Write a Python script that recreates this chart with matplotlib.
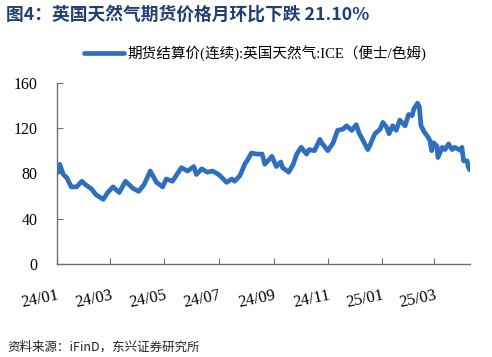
import pandas as pd
import matplotlib.pyplot as plt
import matplotlib.dates as mdates

# ICE UK natural gas settlement price (pence/therm)
dates = [
    '2024-01-02', '2024-01-04', '2024-01-08', '2024-01-12', '2024-01-17', '2024-01-23',
    '2024-01-29', '2024-02-02', '2024-02-09', '2024-02-14', '2024-02-22', '2024-02-27',
    '2024-03-04', '2024-03-11', '2024-03-18', '2024-03-22', '2024-03-26', '2024-04-02',
    '2024-04-08', '2024-04-15', '2024-04-22', '2024-04-29', '2024-05-03', '2024-05-10',
    '2024-05-20', '2024-05-27', '2024-06-03', '2024-06-06', '2024-06-12', '2024-06-18',
    '2024-06-24', '2024-07-01', '2024-07-05', '2024-07-10', '2024-07-16', '2024-07-19',
    '2024-07-25', '2024-07-31', '2024-08-02', '2024-08-07', '2024-08-13', '2024-08-19',
    '2024-08-22', '2024-08-30', '2024-09-04', '2024-09-09', '2024-09-11', '2024-09-18',
    '2024-09-23', '2024-09-27', '2024-10-02', '2024-10-08', '2024-10-11', '2024-10-17',
    '2024-10-23', '2024-10-25', '2024-11-01', '2024-11-07', '2024-11-12', '2024-11-18',
    '2024-11-22', '2024-11-28', '2024-12-03', '2024-12-06', '2024-12-10', '2024-12-16',
    '2024-12-18', '2024-12-24', '2024-12-30', '2025-01-02', '2025-01-06', '2025-01-09',
    '2025-01-13', '2025-01-17', '2025-01-21', '2025-01-27', '2025-01-31', '2025-02-04',
    '2025-02-06', '2025-02-10', '2025-02-12', '2025-02-14', '2025-02-18', '2025-02-21',
    '2025-02-24', '2025-02-26', '2025-02-28', '2025-03-04', '2025-03-05', '2025-03-10',
    '2025-03-13', '2025-03-17', '2025-03-21', '2025-03-24', '2025-03-31', '2025-04-01',
    '2025-04-03', '2025-04-07', '2025-04-08', '2025-04-10',
]
prices = [
    81, 88, 79, 76, 68, 68,
    73, 70, 66, 61, 57, 63,
    68, 63, 73, 70, 67, 64,
    70, 82, 72, 68, 75, 73,
    85, 82, 86, 79, 84, 81,
    82, 79, 76, 72, 75, 73,
    78, 89, 91, 98, 97, 97,
    88, 95, 86, 90, 85, 81,
    88, 97, 103, 97, 101, 100,
    110, 107, 100, 107, 118, 119,
    122, 118, 123, 116, 110, 101,
    104, 115, 119, 125, 121, 115,
    122, 118, 127, 122, 132, 131,
    137, 142, 139, 122, 116, 113,
    109, 100, 107, 104, 94, 103,
    101, 106, 101, 103, 100, 103,
    91, 91, 86, 83,
]
x_ticks = ['2024-01-01', '2024-03-01', '2024-05-01', '2024-07-01',
           '2024-09-01', '2024-11-01', '2025-01-01', '2025-03-01']
y_ticks = [0, 40, 80, 120, 160]

df = pd.DataFrame({'date': pd.to_datetime(dates), 'price': prices})

serif = ['Liberation Serif', 'Noto Sans CJK SC']
cjk = ['Noto Sans CJK SC', 'DejaVu Sans']

fig = plt.figure(figsize=(4.92, 3.57), dpi=100)
ax = fig.add_axes([0.116, 0.261, 0.839, 0.507])

line, = ax.plot(df['date'], df['price'], color='#2F6FBF', lw=3.4,
                solid_joinstyle='round', solid_capstyle='round')

ax.set_xlim(pd.Timestamp('2024-01-01'), df['date'].iloc[-1])
ax.set_ylim(0, 160)
ax.set_yticks(y_ticks)
ax.set_xticks(pd.to_datetime(x_ticks))
ax.xaxis.set_major_formatter(mdates.DateFormatter('%y/%m'))

for side in ['top', 'right']:
    ax.spines[side].set_visible(False)
for side in ['left', 'bottom']:
    ax.spines[side].set_color('#707070')
    ax.spines[side].set_linewidth(1)

ax.tick_params(axis='both', direction='in', length=4, color='#707070')
ax.tick_params(axis='y', pad=14, labelsize=11.5)
ax.tick_params(axis='x', pad=17, labelsize=12)
for lab in ax.get_yticklabels():
    lab.set_family(serif)
for lab in ax.get_xticklabels():
    lab.set_family(serif)
    lab.set_rotation(12)
    lab.set_ha('right')
    lab.set_rotation_mode('anchor')

fig.text(0.012, 0.958, '图4：英国天然气期货价格月环比下跌 21.10%', family=cjk,
         fontsize=12.8, fontweight='bold', color='#203F74', va='center')

fig.legend([line], ['期货结算价(连续):英国天然气:ICE（便士/色姆)'],
           loc='center', bbox_to_anchor=(0.519, 0.852), frameon=False,
           handlelength=2.7, handletextpad=0.25,
           prop={'family': serif, 'size': 10.5})

fig.text(0.016, 0.028, '资料来源：iFinD，东兴证券研究所', family=cjk,
         fontsize=9, color='#222222', va='center')

plt.savefig('out.png', dpi=100)
plt.close()
